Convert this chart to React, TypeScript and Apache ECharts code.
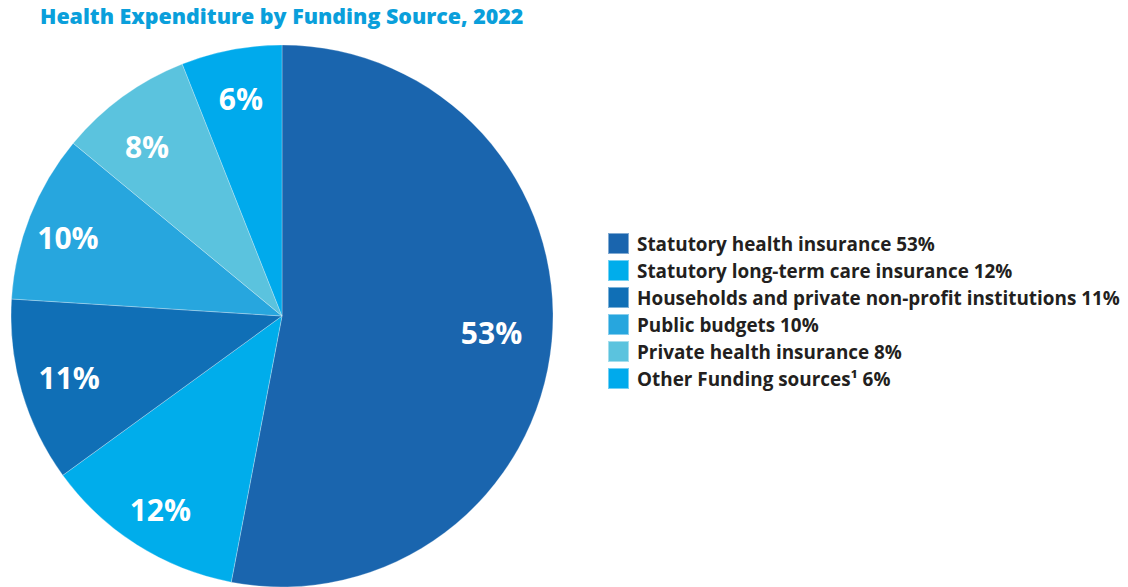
import React, { useEffect, useRef } from "react";
import * as echarts from "echarts";

const titleText = "Health Expenditure by Funding Source, 2022";
const categories = [
  "Statutory health insurance",
  "Statutory long-term care insurance",
  "Households and private non-profit institutions",
  "Public budgets",
  "Private health insurance",
  "Other Funding sources\u00B9",
];
const values = [53, 12, 11, 10, 8, 6];
const colors = ["#1a65ae", "#00adeb", "#106fb6", "#27a6de", "#5bc3de", "#00aaec"];
const labelNudges: [number, number][] = [[-9, -4], [-4, 8], [-2, 0], [-10, 2], [-6, 8], [0, -2]];

export default function App() {
  const ref = useRef<HTMLDivElement>(null);
  useEffect(() => {
    document.body.style.margin = "0";
    const chart = echarts.init(ref.current!, null, { renderer: "svg" });
    const data = categories.map((name, i) => ({
      name,
      value: values[i],
      itemStyle: { color: colors[i] },
    }));
    const valueByName: Record<string, number> = {};
    categories.forEach((c, i) => (valueByName[c] = values[i]));
    chart.setOption({
      animation: false,
      title: {
        text: titleText,
        left: 40,
        top: 5,
        padding: 0,
        textStyle: {
          fontFamily: "Open Sans",
          fontWeight: 800,
          fontSize: 21.4,
          color: "#0a9fdb",
        },
      },
      legend: {
        orient: "vertical",
        left: 607,
        top: 232,
        padding: 0,
        icon: "rect",
        itemWidth: 21,
        itemHeight: 21,
        itemGap: 4,
        selectedMode: false,
        data: categories,
        formatter: (name: string) => `${name} ${valueByName[name]}%`,
        textStyle: {
          fontFamily: "Open Sans",
          fontWeight: 700,
          fontSize: 18.9,
          lineHeight: 21,
          color: "#231f20",
          padding: [0, 0, 0, 3],
        },
      },
      series: [
        {
          type: "pie",
          center: [282, 316],
          radius: [0, 271],
          startAngle: 90,
          clockwise: true,
          silent: true,
          label: { show: false },
          labelLine: { show: false },
          itemStyle: { borderColor: "rgba(255,255,255,0.45)", borderWidth: 0.6 },
          data,
        },
        {
          type: "pie",
          center: [282, 316],
          radius: [162, 271],
          startAngle: 90,
          clockwise: true,
          silent: true,
          itemStyle: { color: "transparent", borderWidth: 0 },
          label: {
            show: true,
            position: "inside",
            formatter: "{c}%",
            color: "#ffffff",
            fontFamily: "Open Sans",
            fontWeight: 700,
            fontSize: 30,
          },
          labelLayout: (params: any) => {
            const n = labelNudges[params.dataIndex] || [0, 0];
            return { dx: n[0], dy: n[1] };
          },
          labelLine: { show: false },
          data: categories.map((name, i) => ({ name, value: values[i], itemStyle: { color: "transparent" } })),
        },
      ],
    });
    return () => chart.dispose();
  }, []);
  return <div ref={ref} style={{ width: 1128, height: 587 }} />;
}
